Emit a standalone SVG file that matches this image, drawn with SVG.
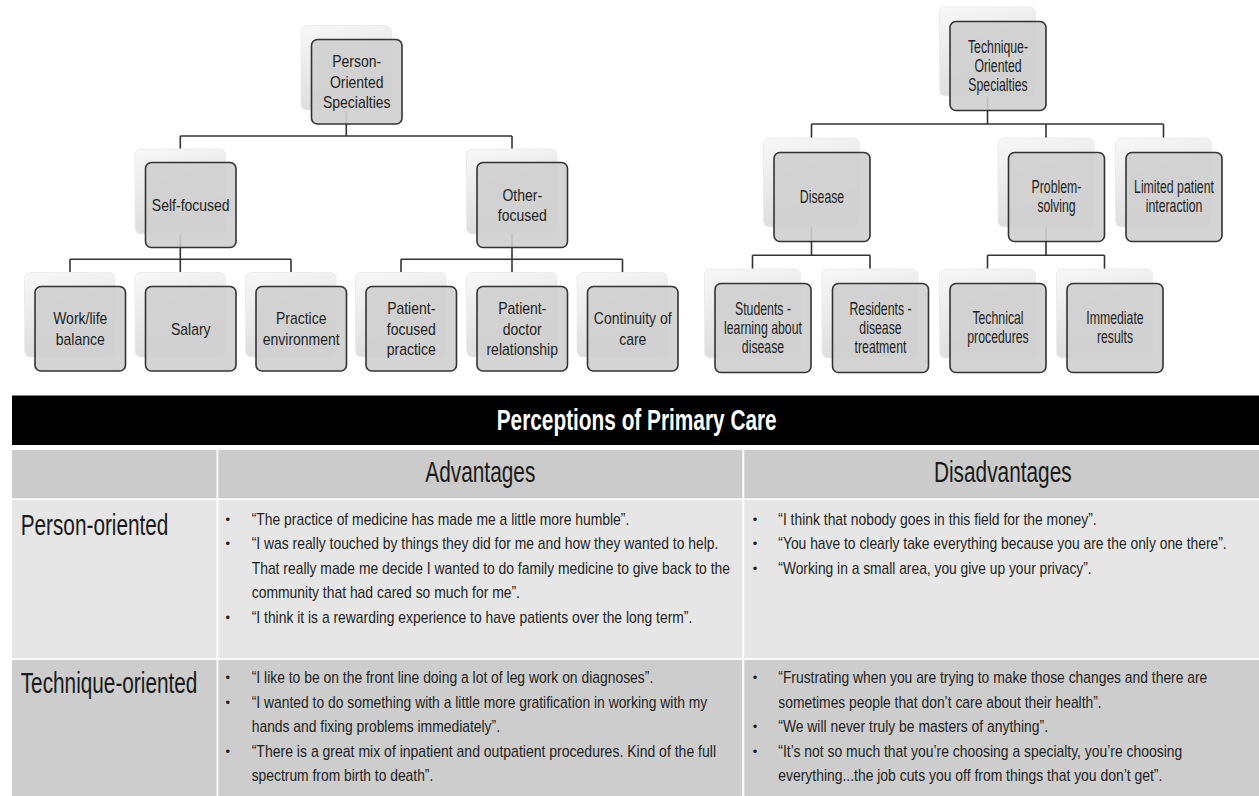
<svg xmlns="http://www.w3.org/2000/svg" width="1259" height="796" viewBox="0 0 1259 796">
<defs>
<linearGradient id="sg" x1="0" y1="0" x2="0.3" y2="1">
<stop offset="0" stop-color="#f8f8f8"/>
<stop offset="1" stop-color="#dcdcdc"/>
</linearGradient>
</defs>
<style>
.sh{fill:url(#sg);stroke:#ececec;stroke-width:1}
.bx{fill:#cfcfcf;fill-opacity:.9;stroke:#333;stroke-width:1.6}
.cn{stroke:#333;stroke-width:1.6;fill:none}
.nl{font-family:"Liberation Sans",Arial,sans-serif;font-size:14px;text-anchor:middle;fill:#1e1e1e}
.nr{font-family:"Liberation Sans",Arial,sans-serif;font-size:12.3px;text-anchor:middle;fill:#1e1e1e}
.tt{font-family:"Liberation Sans",Arial,sans-serif;font-size:20.8px;font-weight:bold;fill:#fff;text-anchor:middle}
.hd{font-family:"Liberation Sans",Arial,sans-serif;font-size:20.8px;fill:#1a1a1a;text-anchor:middle}
.rl{font-family:"Liberation Sans",Arial,sans-serif;font-size:20.8px;fill:#1a1a1a}
.bt{font-family:"Liberation Sans",Arial,sans-serif;font-size:13.4px;fill:#1e1e1e}
.bu{font-family:"Liberation Sans",Arial,sans-serif;font-size:13px;fill:#1e1e1e;text-anchor:middle}
</style>
<rect width="1259" height="796" fill="#fff"/>

<g id="connectors">
<path class="cn" d="M346.3 111 V136 M180.3 136 H512 M180.3 136 V149 M512 136 V149"/>
<path class="cn" d="M180.3 234 V259.3 M70 259.3 H291 M70 259.3 V272.5 M180.3 259.3 V272.5 M291 259.3 V272.5"/>
<path class="cn" d="M512 234 V259.3 M401 259.3 H622.5 M401 259.3 V272.5 M512 259.3 V272.5 M622.5 259.3 V272.5"/>
<path class="cn" d="M987.5 96 V124 M811.5 124 H1163.5 M811.5 124 V138 M1046 124 V138 M1163.5 124 V138"/>
<path class="cn" d="M811.5 227 V255.3 M752.5 255.3 H870 M752.5 255.3 V269 M870 255.3 V269"/>
<path class="cn" d="M1046 227 V255.3 M987.5 255.3 H1104.5 M987.5 255.3 V269 M1104.5 255.3 V269"/>
</g>

<g id="n-person">
<rect class="sh" x="301" y="25.5" width="90.5" height="84.5" rx="6"/>
<rect class="bx" x="311.5" y="39.5" width="90.5" height="84.5" rx="6"/>
<text class="nl" x="356.75" y="67.2" transform="matrix(1 0 0 1.2 0 -13.44)">Person-</text>
<text class="nl" x="356.75" y="87.7" transform="matrix(1 0 0 1.2 0 -17.54)">Oriented</text>
<text class="nl" x="356.75" y="108.2" transform="matrix(1 0 0 1.2 0 -21.64)">Specialties</text>
</g>
<g id="n-self">
<rect class="sh" x="135" y="149" width="90.5" height="85" rx="6"/>
<rect class="bx" x="145.5" y="162.5" width="90.5" height="85" rx="6"/>
<text class="nl" x="190.75" y="211" transform="matrix(1 0 0 1.2 0 -42.2)">Self-focused</text>
</g>
<g id="n-other">
<rect class="sh" x="466.5" y="149" width="90.5" height="85" rx="6"/>
<rect class="bx" x="477" y="162.5" width="90.5" height="85" rx="6"/>
<text class="nl" x="522.25" y="200.8" transform="matrix(1 0 0 1.2 0 -40.16)">Other-</text>
<text class="nl" x="522.25" y="221.3" transform="matrix(1 0 0 1.2 0 -44.26)">focused</text>
</g>
<g id="n-work">
<rect class="sh" x="24.5" y="272.5" width="90.5" height="84.5" rx="6"/>
<rect class="bx" x="35" y="286.5" width="90.5" height="84.5" rx="6"/>
<text class="nl" x="80.25" y="324.5" transform="matrix(1 0 0 1.2 0 -64.9)">Work/life</text>
<text class="nl" x="80.25" y="345" transform="matrix(1 0 0 1.2 0 -69)">balance</text>
</g>
<g id="n-salary">
<rect class="sh" x="135" y="272.5" width="90.5" height="84.5" rx="6"/>
<rect class="bx" x="145.5" y="286.5" width="90.5" height="84.5" rx="6"/>
<text class="nl" x="190.75" y="334.75" transform="matrix(1 0 0 1.2 0 -66.95)">Salary</text>
</g>
<g id="n-practice">
<rect class="sh" x="245.5" y="272.5" width="90.5" height="84.5" rx="6"/>
<rect class="bx" x="256" y="286.5" width="90.5" height="84.5" rx="6"/>
<text class="nl" x="301.25" y="324.5" transform="matrix(1 0 0 1.2 0 -64.9)">Practice</text>
<text class="nl" x="301.25" y="345" transform="matrix(1 0 0 1.2 0 -69)">environment</text>
</g>
<g id="n-patfocused">
<rect class="sh" x="355.5" y="272.5" width="90.5" height="84.5" rx="6"/>
<rect class="bx" x="366" y="286.5" width="90.5" height="84.5" rx="6"/>
<text class="nl" x="411.25" y="314.3" transform="matrix(1 0 0 1.2 0 -62.86)">Patient-</text>
<text class="nl" x="411.25" y="334.8" transform="matrix(1 0 0 1.2 0 -66.96)">focused</text>
<text class="nl" x="411.25" y="355.3" transform="matrix(1 0 0 1.2 0 -71.06)">practice</text>
</g>
<g id="n-patdoctor">
<rect class="sh" x="466.5" y="272.5" width="90.5" height="84.5" rx="6"/>
<rect class="bx" x="477" y="286.5" width="90.5" height="84.5" rx="6"/>
<text class="nl" x="522.25" y="314.3" transform="matrix(1 0 0 1.2 0 -62.86)">Patient-</text>
<text class="nl" x="522.25" y="334.8" transform="matrix(1 0 0 1.2 0 -66.96)">doctor</text>
<text class="nl" x="522.25" y="355.3" transform="matrix(1 0 0 1.2 0 -71.06)">relationship</text>
</g>
<g id="n-continuity">
<rect class="sh" x="577" y="272.5" width="90.5" height="84.5" rx="6"/>
<rect class="bx" x="587.5" y="286.5" width="90.5" height="84.5" rx="6"/>
<text class="nl" x="632.75" y="324.5" transform="matrix(1 0 0 1.2 0 -64.9)">Continuity of</text>
<text class="nl" x="632.75" y="345" transform="matrix(1 0 0 1.2 0 -69)">care</text>
</g>

<g id="n-technique">
<rect class="sh" x="939.5" y="7" width="96" height="89" rx="6"/>
<rect class="bx" x="950" y="21.5" width="96" height="89" rx="6"/>
<text class="nr" x="998" y="53" transform="matrix(1 0 0 1.45 0 -23.85)">Technique-</text>
<text class="nr" x="998" y="72" transform="matrix(1 0 0 1.45 0 -32.4)">Oriented</text>
<text class="nr" x="998" y="91" transform="matrix(1 0 0 1.45 0 -40.95)">Specialties</text>
</g>
<g id="n-disease">
<rect class="sh" x="763.5" y="138" width="96" height="89" rx="6"/>
<rect class="bx" x="774" y="152.5" width="96" height="89" rx="6"/>
<text class="nr" x="822" y="203" transform="matrix(1 0 0 1.45 0 -91.35)">Disease</text>
</g>
<g id="n-problem">
<rect class="sh" x="998" y="138" width="96" height="89" rx="6"/>
<rect class="bx" x="1008.5" y="152.5" width="96" height="89" rx="6"/>
<text class="nr" x="1056.5" y="193.5" transform="matrix(1 0 0 1.45 0 -87.075)">Problem-</text>
<text class="nr" x="1056.5" y="212.5" transform="matrix(1 0 0 1.45 0 -95.625)">solving</text>
</g>
<g id="n-limited">
<rect class="sh" x="1115.5" y="138" width="96" height="89" rx="6"/>
<rect class="bx" x="1126" y="152.5" width="96" height="89" rx="6"/>
<text class="nr" x="1174" y="193.5" transform="matrix(1 0 0 1.45 0 -87.075)">Limited patient</text>
<text class="nr" x="1174" y="212.5" transform="matrix(1 0 0 1.45 0 -95.625)">interaction</text>
</g>
<g id="n-students">
<rect class="sh" x="704.5" y="269" width="96" height="89" rx="6"/>
<rect class="bx" x="715" y="283.5" width="96" height="89" rx="6"/>
<text class="nr" x="763" y="315" transform="matrix(1 0 0 1.45 0 -141.75)">Students -</text>
<text class="nr" x="763" y="334" transform="matrix(1 0 0 1.45 0 -150.3)">learning about</text>
<text class="nr" x="763" y="353" transform="matrix(1 0 0 1.45 0 -158.85)">disease</text>
</g>
<g id="n-residents">
<rect class="sh" x="822" y="269" width="96" height="89" rx="6"/>
<rect class="bx" x="832.5" y="283.5" width="96" height="89" rx="6"/>
<text class="nr" x="880.5" y="315" transform="matrix(1 0 0 1.45 0 -141.75)">Residents -</text>
<text class="nr" x="880.5" y="334" transform="matrix(1 0 0 1.45 0 -150.3)">disease</text>
<text class="nr" x="880.5" y="353" transform="matrix(1 0 0 1.45 0 -158.85)">treatment</text>
</g>
<g id="n-technical">
<rect class="sh" x="939.5" y="269" width="96" height="89" rx="6"/>
<rect class="bx" x="950" y="283.5" width="96" height="89" rx="6"/>
<text class="nr" x="998" y="324.5" transform="matrix(1 0 0 1.45 0 -146.025)">Technical</text>
<text class="nr" x="998" y="343.5" transform="matrix(1 0 0 1.45 0 -154.575)">procedures</text>
</g>
<g id="n-immediate">
<rect class="sh" x="1056.5" y="269" width="96" height="89" rx="6"/>
<rect class="bx" x="1067" y="283.5" width="96" height="89" rx="6"/>
<text class="nr" x="1115" y="324.5" transform="matrix(1 0 0 1.45 0 -146.025)">Immediate</text>
<text class="nr" x="1115" y="343.5" transform="matrix(1 0 0 1.45 0 -154.575)">results</text>
</g>

<g id="table">
<rect x="12" y="395.5" width="1247" height="49.5" fill="#000"/>
<rect x="12" y="450" width="204.5" height="48.3" fill="#cbcbcb"/>
<rect x="218.3" y="450" width="524" height="48.3" fill="#cbcbcb"/>
<rect x="744.3" y="450" width="514.7" height="48.3" fill="#cbcbcb"/>
<rect x="12" y="500" width="204.5" height="158.3" fill="#e6e6e6"/>
<rect x="218.3" y="500" width="524" height="158.3" fill="#e6e6e6"/>
<rect x="744.3" y="500" width="514.7" height="158.3" fill="#e6e6e6"/>
<rect x="12" y="660" width="204.5" height="136" fill="#cdcdcd"/>
<rect x="218.3" y="660" width="524" height="136" fill="#cdcdcd"/>
<rect x="744.3" y="660" width="514.7" height="136" fill="#cdcdcd"/>

<text class="tt" x="636.7" y="430" textLength="280" lengthAdjust="spacingAndGlyphs" transform="matrix(1 0 0 1.38 0 -163.4)">Perceptions of Primary Care</text>
<text class="hd" x="480.3" y="482.3" textLength="110" lengthAdjust="spacingAndGlyphs" transform="matrix(1 0 0 1.38 0 -183.274)">Advantages</text>
<text class="hd" x="1002.8" y="482.3" textLength="137.7" lengthAdjust="spacingAndGlyphs" transform="matrix(1 0 0 1.38 0 -183.274)">Disadvantages</text>
<text class="rl" x="20.7" y="535" textLength="147.7" lengthAdjust="spacingAndGlyphs" transform="matrix(1 0 0 1.38 0 -203.3)">Person-oriented</text>
<text class="rl" x="20.7" y="693.3" textLength="176.7" lengthAdjust="spacingAndGlyphs" transform="matrix(1 0 0 1.38 0 -263.454)">Technique-oriented</text>

<text class="bu" x="227.7" y="524">•</text>
<text class="bu" x="227.7" y="548.4">•</text>
<text class="bu" x="227.7" y="621.6">•</text>
<text class="bt" x="251.7" y="525" textLength="377.6" lengthAdjust="spacingAndGlyphs" transform="matrix(1 0 0 1.27 0 -141.75)">“The practice of medicine has made me a little more humble”.</text>
<text class="bt" x="251.7" y="549.4" textLength="466.6" lengthAdjust="spacingAndGlyphs" transform="matrix(1 0 0 1.27 0 -148.338)">“I was really touched by things they did for me and how they wanted to help.</text>
<text class="bt" x="251.7" y="573.8" textLength="478.3" lengthAdjust="spacingAndGlyphs" transform="matrix(1 0 0 1.27 0 -154.926)">That really made me decide I wanted to do family medicine to give back to the</text>
<text class="bt" x="251.7" y="598.2" textLength="268.3" lengthAdjust="spacingAndGlyphs" transform="matrix(1 0 0 1.27 0 -161.514)">community that had cared so much for me”.</text>
<text class="bt" x="251.7" y="622.6" textLength="440.6" lengthAdjust="spacingAndGlyphs" transform="matrix(1 0 0 1.27 0 -168.102)">“I think it is a rewarding experience to have patients over the long term”.</text>

<text class="bu" x="755" y="524">•</text>
<text class="bu" x="755" y="548.4">•</text>
<text class="bu" x="755" y="572.8">•</text>
<text class="bt" x="778.3" y="525" textLength="318.4" lengthAdjust="spacingAndGlyphs" transform="matrix(1 0 0 1.27 0 -141.75)">“I think that nobody goes in this field for the money”.</text>
<text class="bt" x="778.3" y="549.4" textLength="448.4" lengthAdjust="spacingAndGlyphs" transform="matrix(1 0 0 1.27 0 -148.338)">“You have to clearly take everything because you are the only one there”.</text>
<text class="bt" x="778.3" y="573.8" textLength="313.4" lengthAdjust="spacingAndGlyphs" transform="matrix(1 0 0 1.27 0 -154.926)">“Working in a small area, you give up your privacy”.</text>

<text class="bu" x="227.7" y="682.3">•</text>
<text class="bu" x="227.7" y="706.8">•</text>
<text class="bu" x="227.7" y="755.8">•</text>
<text class="bt" x="251.7" y="683.3" textLength="401.6" lengthAdjust="spacingAndGlyphs" transform="matrix(1 0 0 1.27 0 -184.491)">“I like to be on the front line doing a lot of leg work on diagnoses”.</text>
<text class="bt" x="251.7" y="707.8" textLength="455.6" lengthAdjust="spacingAndGlyphs" transform="matrix(1 0 0 1.27 0 -191.106)">“I wanted to do something with a little more gratification in working with my</text>
<text class="bt" x="251.7" y="732.3" textLength="248.3" lengthAdjust="spacingAndGlyphs" transform="matrix(1 0 0 1.27 0 -197.721)">hands and fixing problems immediately”.</text>
<text class="bt" x="251.7" y="756.8" textLength="464.3" lengthAdjust="spacingAndGlyphs" transform="matrix(1 0 0 1.27 0 -204.336)">“There is a great mix of inpatient and outpatient procedures.  Kind of the full</text>
<text class="bt" x="251.7" y="781.3" textLength="181.6" lengthAdjust="spacingAndGlyphs" transform="matrix(1 0 0 1.27 0 -210.951)">spectrum from birth to death”.</text>

<text class="bu" x="755" y="682.3">•</text>
<text class="bu" x="755" y="731.3">•</text>
<text class="bu" x="755" y="755.8">•</text>
<text class="bt" x="778.3" y="683.3" textLength="429" lengthAdjust="spacingAndGlyphs" transform="matrix(1 0 0 1.27 0 -184.491)">“Frustrating when you are trying to make those changes and there are</text>
<text class="bt" x="778.3" y="707.8" textLength="323.4" lengthAdjust="spacingAndGlyphs" transform="matrix(1 0 0 1.27 0 -191.106)">sometimes people that don’t care about their health”.</text>
<text class="bt" x="778.3" y="732.3" textLength="269.7" lengthAdjust="spacingAndGlyphs" transform="matrix(1 0 0 1.27 0 -197.721)">“We will never truly be masters of anything”.</text>
<text class="bt" x="778.3" y="756.8" textLength="404" lengthAdjust="spacingAndGlyphs" transform="matrix(1 0 0 1.27 0 -204.336)">“It’s not so much that you’re choosing a specialty, you’re choosing</text>
<text class="bt" x="778.3" y="781.3" textLength="384" lengthAdjust="spacingAndGlyphs" transform="matrix(1 0 0 1.27 0 -210.951)">everything...the job cuts you off from things that you don’t get”.</text>
</g>
</svg>
